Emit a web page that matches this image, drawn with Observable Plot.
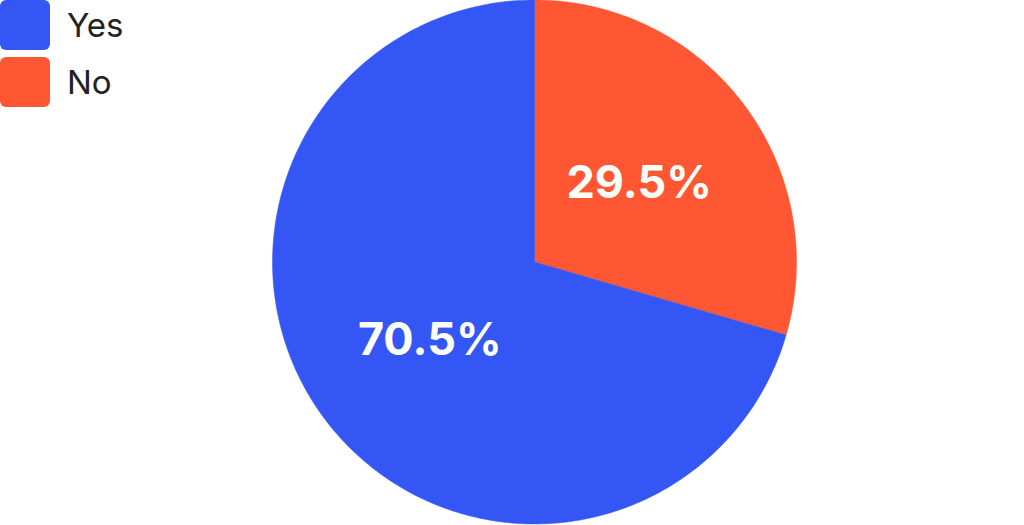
<!DOCTYPE html>
<html>
<head>
<meta charset="utf-8">
<script src="https://cdn.jsdelivr.net/npm/d3@7"></script>
<script src="https://cdn.jsdelivr.net/npm/@observablehq/plot@0.6"></script>
<style>
  html, body { margin: 0; padding: 0; background: #fff; }
  #wrap { position: relative; width: 1024px; height: 525px; overflow: hidden; }
  #legend { position: absolute; left: 0; top: 0; font-family: Inter, "Noto Sans", sans-serif; }
  .item { display: flex; align-items: center; height: 50px; margin-bottom: 7px; }
  .sw { width: 50px; height: 50px; border-radius: 6px; margin-right: 17px; }
  .lab { font-size: 33px; color: #222; font-weight: 400; }
</style>
</head>
<body>
<div id="wrap"><div id="chart"></div><div id="legend"></div></div>
<script>
const categories = ["No", "Yes"];
const values = [29.5, 70.5];
const colors = ["#FF5733", "#3356F5"];
const legendOrder = ["Yes", "No"];

const W = 1024, H = 525;
const cx = 534, cy = 261.5, R = 262;

const arcs = d3.pie().sort(null).value(d => d.value)(
  categories.map((c, i) => ({category: c, value: values[i]}))
);

const polyPts = [];
arcs.forEach(a => {
  polyPts.push({category: a.data.category, x: 0, y: 0});
  const n = 240;
  for (let k = 0; k <= n; k++) {
    const t = a.startAngle + (a.endAngle - a.startAngle) * k / n;
    polyPts.push({category: a.data.category, x: Math.sin(t), y: Math.cos(t)});
  }
  polyPts.push({category: a.data.category, x: 0, y: 0});
});

const labels = arcs.map(a => {
  const m = (a.startAngle + a.endAngle) / 2;
  return {category: a.data.category, x: 0.5 * Math.sin(m), y: 0.5 * Math.cos(m), text: a.data.value + "%"};
});

const chart = Plot.plot({
  width: W, height: H,
  margin: 0,
  x: {domain: [-cx / R, (W - cx) / R], axis: null},
  y: {domain: [-(H - cy) / R, cy / R], axis: null},
  color: {domain: categories, range: colors},
  marks: [
    Plot.line(polyPts, {x: "x", y: "y", z: "category", fill: "category", stroke: "category", strokeWidth: 0.5, curve: "linear"}),
    Plot.text(labels, {x: "x", y: "y", text: "text", fill: "#fcfff7", fontSize: 45, fontWeight: 700, fontFamily: "Inter, 'Noto Sans', sans-serif"})
  ]
});
document.getElementById("chart").appendChild(chart);

const lg = document.getElementById("legend");
legendOrder.forEach(c => {
  const i = categories.indexOf(c);
  const item = document.createElement("div");
  item.className = "item";
  const sw = document.createElement("div");
  sw.className = "sw";
  sw.style.background = colors[i];
  const lab = document.createElement("span");
  lab.className = "lab";
  lab.textContent = c;
  item.appendChild(sw); item.appendChild(lab);
  lg.appendChild(item);
});
</script>
</body>
</html>
